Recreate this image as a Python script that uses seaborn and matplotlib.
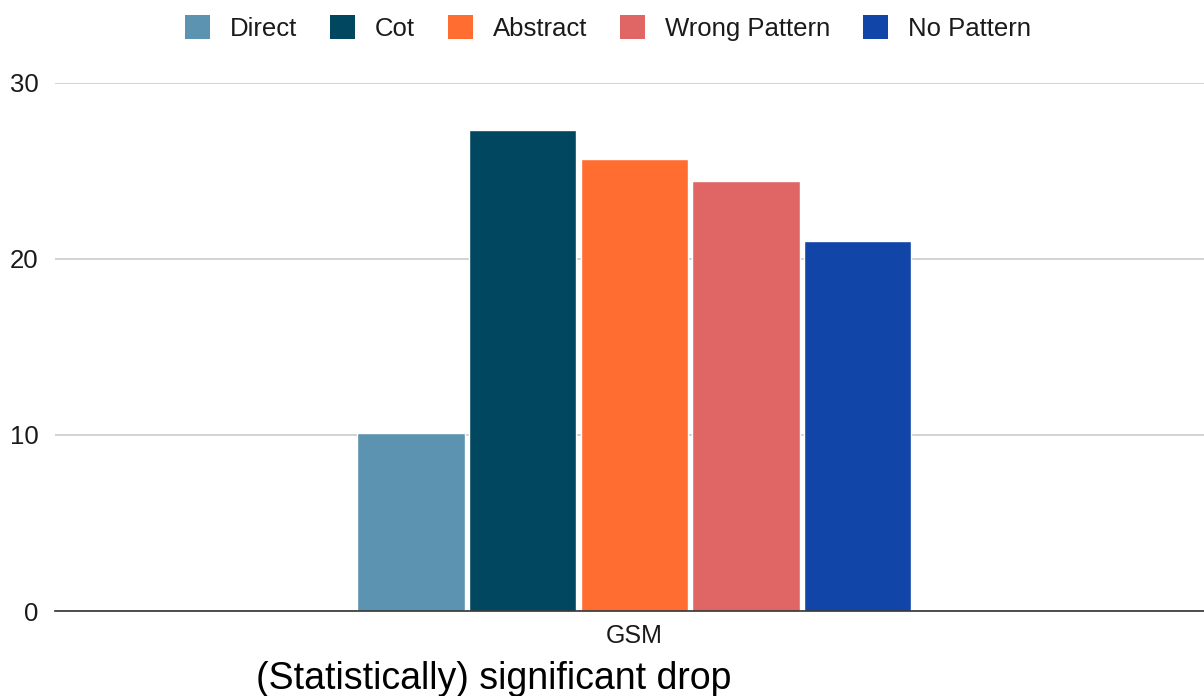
import matplotlib
matplotlib.use("Agg")
import matplotlib.pyplot as plt
import seaborn as sns
import pandas as pd

# Scores on GSM per prompting method
categories = ["GSM"]
methods = ["Direct", "Cot", "Abstract", "Wrong Pattern", "No Pattern"]
scores = [10.1, 27.3, 25.7, 24.4, 21.0]
palette = ["#5b93b0", "#01475f", "#ff6d31", "#e06666", "#1145a8"]
y_ticks = [0, 10, 20, 30]
caption = "(Statistically) significant drop"

df = pd.DataFrame({
    "dataset": categories * len(methods),
    "method": methods,
    "score": scores,
})

sns.set_theme(style="white")
plt.rcParams["font.family"] = ["Liberation Sans", "DejaVu Sans"]

fig = plt.figure(figsize=(12.04, 6.96), dpi=100)
ax = fig.add_axes([0.046, 0.122, 0.954, 0.759])

sns.barplot(data=df, x="dataset", y="score", hue="method",
            hue_order=methods, palette=palette, width=0.486, gap=0.04,
            saturation=1, ax=ax, legend=False, zorder=3)

ax.set_xlim(-0.504, 0.496)
ax.set_ylim(0, 30)
ax.set_yticks(y_ticks)
ax.set_yticklabels([str(t) for t in y_ticks])
ax.yaxis.grid(True, color="#cccccc", linewidth=1.2, zorder=0)
ax.set_axisbelow(True)
for side in ["left", "right", "top"]:
    ax.spines[side].set_visible(False)
ax.spines["bottom"].set_color("#333333")
ax.spines["bottom"].set_linewidth(1.2)
ax.spines["bottom"].set_zorder(4)
ax.tick_params(axis="x", length=0, labelsize=18, colors="#1a1a1a", pad=9)
ax.tick_params(axis="y", length=0, labelsize=18.5, colors="#1a1a1a", pad=12)
ax.set_xlabel("")
ax.set_ylabel("")

handles = [plt.Rectangle((0, 0), 1, 1, facecolor=c, edgecolor="none") for c in palette]
fig.legend(handles, methods, loc="upper center", bbox_to_anchor=(0.505, 1.012),
           ncol=len(methods), frameon=False, fontsize=18.5, handlelength=0.95,
           handleheight=1.1, handletextpad=0.78, columnspacing=1.3,
           labelcolor="#1a1a1a")

fig.text(0.41, 0.025, caption, ha="center", va="center", fontsize=27, color="#000000")

fig.savefig("out.png", dpi=100)
